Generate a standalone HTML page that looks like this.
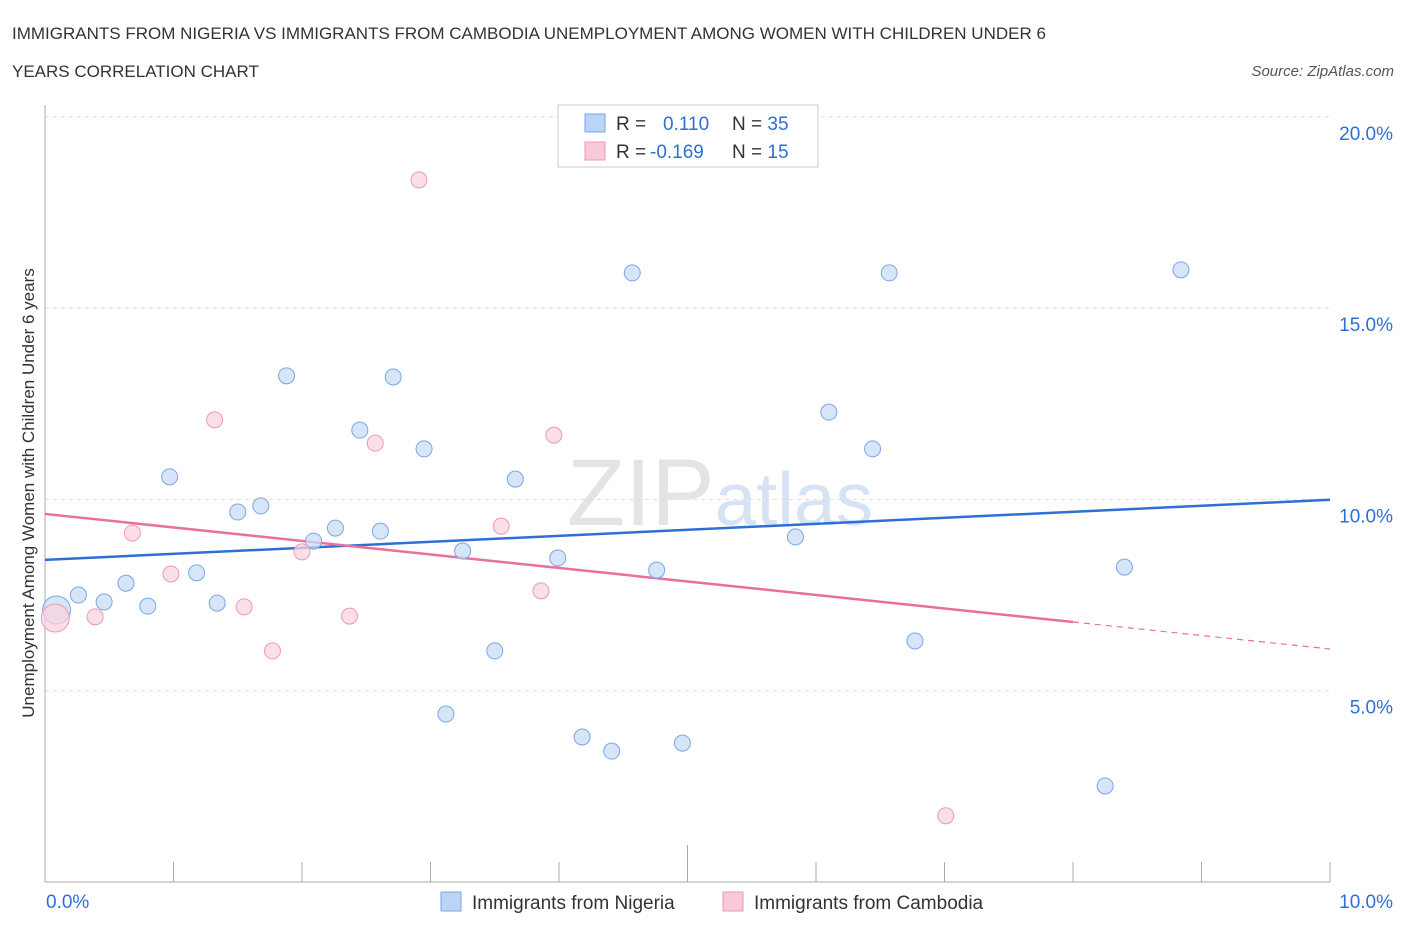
<!DOCTYPE html>
<html><head><meta charset="utf-8"><style>
body{margin:0;background:#fff;font-family:"Liberation Sans",sans-serif}
svg text{font-family:"Liberation Sans",sans-serif}
</style></head><body>
<svg width="1406" height="930" xmlns="http://www.w3.org/2000/svg">
<text x="12" y="39" font-size="17" fill="#333">IMMIGRANTS FROM NIGERIA VS IMMIGRANTS FROM CAMBODIA UNEMPLOYMENT AMONG WOMEN WITH CHILDREN UNDER 6</text>
<text x="12" y="77" font-size="17" fill="#333">YEARS CORRELATION CHART</text>
<text x="1394" y="76" font-size="15" fill="#555" text-anchor="end" font-style="italic">Source: ZipAtlas.com</text>
<text x="720" y="525" font-size="95" fill="#e4e4e4" text-anchor="middle" font-family="Liberation Serif">ZIP<tspan fill="#d5e3f3" font-family="Liberation Sans" font-size="75">atlas</tspan></text>
<g id="grid"></g><g id="axes"></g><g id="lines"></g><g id="pts"></g>
<text transform="translate(34,493) rotate(-90)" font-size="17" fill="#333" text-anchor="middle">Unemployment Among Women with Children Under 6 years</text>
<g>
<rect x="558" y="105" width="260" height="62" fill="#fff" stroke="#ccc"/>
<rect x="585" y="114" width="20" height="18" fill="#bcd4f5" stroke="#7aa6e6"/>
<rect x="585" y="142" width="20" height="18" fill="#f9c9d8" stroke="#ee9ab4"/>
<text x="616" y="130" font-size="19" fill="#333">R = <tspan fill="#2e6fd6" x="663">0.110</tspan><tspan x="732">N = </tspan><tspan fill="#2e6fd6">35</tspan></text>
<text x="616" y="158" font-size="19" fill="#333">R = <tspan fill="#2e6fd6" x="650">-0.169</tspan><tspan x="732">N = </tspan><tspan fill="#2e6fd6"> 15</tspan></text>
</g>
<g>
<rect x="441" y="892" width="20" height="19" fill="#bcd4f5" stroke="#7aa6e6"/>
<text x="472" y="909" font-size="19" fill="#333">Immigrants from Nigeria</text>
<rect x="723" y="892" width="20" height="19" fill="#f9c9d8" stroke="#ee9ab4"/>
<text x="754" y="909" font-size="19" fill="#333">Immigrants from Cambodia</text>
</g>
</svg>
<script>
const nigeriaX=[0.09,0.26,0.46,0.63,0.80,0.97,1.18,1.34,1.50,1.68,1.88,2.09,2.26,2.45,2.61,2.71,2.95,3.12,3.25,3.50,3.66,3.99,4.18,4.41,4.57,4.76,4.96,5.84,6.10,6.44,6.57,6.77,8.25,8.40,8.84];
const nigeriaY=[7.11,7.5,7.32,7.81,7.21,10.59,8.08,7.29,9.67,9.83,13.23,8.91,9.25,11.81,9.17,13.2,11.32,4.39,8.65,6.04,10.53,8.47,3.79,3.42,15.92,8.15,3.63,9.02,12.28,11.32,15.92,6.30,2.51,8.23,16.0];
const cambodiaX=[0.08,0.39,0.68,0.98,1.32,1.55,1.77,2.0,2.37,2.57,2.91,3.55,3.86,3.96,7.01];
const cambodiaY=[6.9,6.93,9.12,8.05,12.08,7.19,6.04,8.63,6.95,11.47,18.35,9.3,7.61,11.68,1.73];
const yTicks=[5,10,15,20];
const xTickLabels=["0.0%","10.0%"];
const nigeriaTrend=[8.42,9.99];
const cambodiaTrend=[9.62,6.09];
const NS="http://www.w3.org/2000/svg";
const sx=v=>45+v*128.5, sy=v=>882-v*38.26;
function mk(t,a,p){const e=document.createElementNS(NS,t);for(const k in a)e.setAttribute(k,a[k]);document.getElementById(p).appendChild(e);return e;}
yTicks.forEach(t=>{
 const l=mk('line',{x1:45,x2:1330,y1:sy(t),y2:sy(t),stroke:'#ddd','stroke-dasharray':'4,4'},'grid');
 
 
 const tx=mk('text',{x:1393,y:sy(t)+23,'font-size':19,fill:'#2e6fd6','text-anchor':'end'},'grid');tx.textContent=t.toFixed(1)+'%';
 
 
});
const ax=mk('line',{x1:45,x2:1330,y1:882,y2:882,stroke:'#aaa'},'axes');


const ay=mk('line',{x1:45,x2:45,y1:105,y2:882,stroke:'#aaa'},'axes');


for(let i=0;i<=10;i++){const t=mk('line',{x1:sx(i),x2:sx(i),y1:i==5?845:862,y2:882,stroke:'#aaa'},'axes');
 
 }
[[0,62,'start'],[10,1393,'end']].forEach((d,i)=>{const t=mk('text',{x:i?1393:46,y:908,'font-size':19,fill:'#2e6fd6','text-anchor':d[2]},'axes');t.textContent=xTickLabels[i];
 
 });
function draw(X,Y,fill,stroke,name){X.forEach((x,i)=>{const c=mk('circle',{cx:sx(x),cy:sy(Y[i]),r:i==0?14:8,fill:fill,stroke:stroke,'stroke-width':1,'fill-opacity':0.75},'pts');
 
 });}
draw(nigeriaX,nigeriaY,'#c9dcf6','#7aa6e6','nigeria-point');
draw(cambodiaX,cambodiaY,'#fad3df','#ee9ab4','cambodia-point');
const bl=mk('line',{x1:sx(0),x2:sx(10),y1:sy(nigeriaTrend[0]),y2:sy(nigeriaTrend[1]),stroke:'#2e6fd6','stroke-width':2.5},'lines');


const f=8, ym=cambodiaTrend[0]+(cambodiaTrend[1]-cambodiaTrend[0])*f/10;
const pl=mk('line',{x1:sx(0),x2:sx(f),y1:sy(cambodiaTrend[0]),y2:sy(ym),stroke:'#e8709a','stroke-width':2.5},'lines');


const pd=mk('line',{x1:sx(f),x2:sx(10),y1:sy(ym),y2:sy(cambodiaTrend[1]),stroke:'#e8709a','stroke-width':1.2,'stroke-dasharray':'6,5'},'lines');


</script>
</body></html>
